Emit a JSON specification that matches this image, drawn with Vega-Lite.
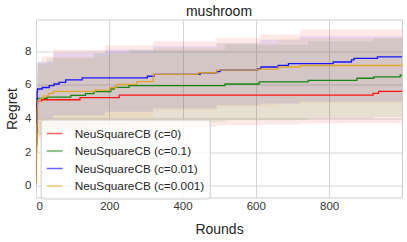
{
  "$schema": "https://vega.github.io/schema/vega-lite/v6.json",
  "width": 366,
  "height": 178,
  "autosize": {"type": "none"},
  "padding": {"left": 36, "top": 19.5, "right": 5, "bottom": 44.5},
  "background": "white",
  "config": {
    "font": "Liberation Sans",
    "view": {"stroke": "#cccccc", "strokeWidth": 1}
  },
  "title": {"text": "mushroom", "fontSize": 14, "fontWeight": "normal", "color": "#1a1a1a", "offset": 1, "font": "Liberation Sans"},
  "datasets": {
    "bands": [
      {"s": "NeuSquareCB (c=0)", "x": 0, "lo": 0.0, "hi": 0.6},
      {"s": "NeuSquareCB (c=0)", "x": 2, "lo": 1.5, "hi": 5.5},
      {"s": "NeuSquareCB (c=0)", "x": 4, "lo": 2.8, "hi": 7.4},
      {"s": "NeuSquareCB (c=0)", "x": 15, "lo": 3.0, "hi": 7.7},
      {"s": "NeuSquareCB (c=0)", "x": 47, "lo": 3.2, "hi": 8.1},
      {"s": "NeuSquareCB (c=0)", "x": 188, "lo": 3.4, "hi": 8.37},
      {"s": "NeuSquareCB (c=0)", "x": 320, "lo": 3.5, "hi": 8.6},
      {"s": "NeuSquareCB (c=0)", "x": 493, "lo": 3.6, "hi": 8.8},
      {"s": "NeuSquareCB (c=0)", "x": 612, "lo": 3.65, "hi": 9.0},
      {"s": "NeuSquareCB (c=0)", "x": 721, "lo": 3.7, "hi": 9.3},
      {"s": "NeuSquareCB (c=0)", "x": 999, "lo": 3.7, "hi": 9.35},
      {"s": "NeuSquareCB (c=0.1)", "x": 0, "lo": 0.0, "hi": 0.6},
      {"s": "NeuSquareCB (c=0.1)", "x": 2, "lo": 1.5, "hi": 5.5},
      {"s": "NeuSquareCB (c=0.1)", "x": 4, "lo": 3.0, "hi": 7.3},
      {"s": "NeuSquareCB (c=0.1)", "x": 30, "lo": 3.3, "hi": 7.6},
      {"s": "NeuSquareCB (c=0.1)", "x": 158, "lo": 3.6, "hi": 7.9},
      {"s": "NeuSquareCB (c=0.1)", "x": 254, "lo": 3.8, "hi": 8.1},
      {"s": "NeuSquareCB (c=0.1)", "x": 516, "lo": 3.9, "hi": 8.4},
      {"s": "NeuSquareCB (c=0.1)", "x": 743, "lo": 4.0, "hi": 8.6},
      {"s": "NeuSquareCB (c=0.1)", "x": 922, "lo": 4.1, "hi": 8.8},
      {"s": "NeuSquareCB (c=0.1)", "x": 999, "lo": 4.1, "hi": 8.9},
      {"s": "NeuSquareCB (c=0.01)", "x": 0, "lo": 0.2, "hi": 0.8},
      {"s": "NeuSquareCB (c=0.01)", "x": 2, "lo": 3.5, "hi": 6.5},
      {"s": "NeuSquareCB (c=0.01)", "x": 4, "lo": 4.0, "hi": 7.4},
      {"s": "NeuSquareCB (c=0.01)", "x": 47, "lo": 4.2, "hi": 7.9},
      {"s": "NeuSquareCB (c=0.01)", "x": 188, "lo": 4.4, "hi": 8.1},
      {"s": "NeuSquareCB (c=0.01)", "x": 320, "lo": 4.6, "hi": 8.3},
      {"s": "NeuSquareCB (c=0.01)", "x": 493, "lo": 4.8, "hi": 8.5},
      {"s": "NeuSquareCB (c=0.01)", "x": 612, "lo": 4.9, "hi": 8.7},
      {"s": "NeuSquareCB (c=0.01)", "x": 721, "lo": 5.0, "hi": 8.9},
      {"s": "NeuSquareCB (c=0.01)", "x": 999, "lo": 5.0, "hi": 8.9},
      {"s": "NeuSquareCB (c=0.001)", "x": 0, "lo": 0.0, "hi": 0.6},
      {"s": "NeuSquareCB (c=0.001)", "x": 2, "lo": 2.0, "hi": 5.5},
      {"s": "NeuSquareCB (c=0.001)", "x": 4, "lo": 3.0, "hi": 7.2},
      {"s": "NeuSquareCB (c=0.001)", "x": 47, "lo": 3.6, "hi": 7.7},
      {"s": "NeuSquareCB (c=0.001)", "x": 200, "lo": 4.0, "hi": 7.9},
      {"s": "NeuSquareCB (c=0.001)", "x": 320, "lo": 4.5, "hi": 8.2},
      {"s": "NeuSquareCB (c=0.001)", "x": 493, "lo": 4.7, "hi": 8.5},
      {"s": "NeuSquareCB (c=0.001)", "x": 661, "lo": 4.9, "hi": 8.8},
      {"s": "NeuSquareCB (c=0.001)", "x": 999, "lo": 5.0, "hi": 8.9}
    ],
    "lines": [
      {"s": "NeuSquareCB (c=0)", "x": 0, "y": 0.3},
      {"s": "NeuSquareCB (c=0)", "x": 1, "y": 2.6},
      {"s": "NeuSquareCB (c=0)", "x": 2, "y": 4.2},
      {"s": "NeuSquareCB (c=0)", "x": 3, "y": 4.9},
      {"s": "NeuSquareCB (c=0)", "x": 4, "y": 5.05},
      {"s": "NeuSquareCB (c=0)", "x": 15, "y": 5.12},
      {"s": "NeuSquareCB (c=0)", "x": 120, "y": 5.25},
      {"s": "NeuSquareCB (c=0)", "x": 227, "y": 5.4},
      {"s": "NeuSquareCB (c=0)", "x": 920, "y": 5.5},
      {"s": "NeuSquareCB (c=0)", "x": 935, "y": 5.62},
      {"s": "NeuSquareCB (c=0)", "x": 999, "y": 5.62},
      {"s": "NeuSquareCB (c=0.1)", "x": 0, "y": 0.3},
      {"s": "NeuSquareCB (c=0.1)", "x": 1, "y": 2.4},
      {"s": "NeuSquareCB (c=0.1)", "x": 2, "y": 4.0},
      {"s": "NeuSquareCB (c=0.1)", "x": 3, "y": 4.9},
      {"s": "NeuSquareCB (c=0.1)", "x": 4, "y": 5.2},
      {"s": "NeuSquareCB (c=0.1)", "x": 30, "y": 5.28},
      {"s": "NeuSquareCB (c=0.1)", "x": 95, "y": 5.38},
      {"s": "NeuSquareCB (c=0.1)", "x": 135, "y": 5.48},
      {"s": "NeuSquareCB (c=0.1)", "x": 158, "y": 5.6},
      {"s": "NeuSquareCB (c=0.1)", "x": 204, "y": 5.76},
      {"s": "NeuSquareCB (c=0.1)", "x": 213, "y": 5.86},
      {"s": "NeuSquareCB (c=0.1)", "x": 254, "y": 5.96},
      {"s": "NeuSquareCB (c=0.1)", "x": 516, "y": 6.06},
      {"s": "NeuSquareCB (c=0.1)", "x": 609, "y": 6.18},
      {"s": "NeuSquareCB (c=0.1)", "x": 743, "y": 6.28},
      {"s": "NeuSquareCB (c=0.1)", "x": 876, "y": 6.4},
      {"s": "NeuSquareCB (c=0.1)", "x": 922, "y": 6.48},
      {"s": "NeuSquareCB (c=0.1)", "x": 994, "y": 6.58},
      {"s": "NeuSquareCB (c=0.1)", "x": 999, "y": 6.58},
      {"s": "NeuSquareCB (c=0.01)", "x": 0, "y": 0.5},
      {"s": "NeuSquareCB (c=0.01)", "x": 1, "y": 3.2},
      {"s": "NeuSquareCB (c=0.01)", "x": 2, "y": 5.0},
      {"s": "NeuSquareCB (c=0.01)", "x": 3, "y": 5.6},
      {"s": "NeuSquareCB (c=0.01)", "x": 4, "y": 5.76},
      {"s": "NeuSquareCB (c=0.01)", "x": 17, "y": 5.85},
      {"s": "NeuSquareCB (c=0.01)", "x": 36, "y": 5.96},
      {"s": "NeuSquareCB (c=0.01)", "x": 49, "y": 6.06},
      {"s": "NeuSquareCB (c=0.01)", "x": 63, "y": 6.16},
      {"s": "NeuSquareCB (c=0.01)", "x": 81, "y": 6.3},
      {"s": "NeuSquareCB (c=0.01)", "x": 126, "y": 6.42},
      {"s": "NeuSquareCB (c=0.01)", "x": 304, "y": 6.52},
      {"s": "NeuSquareCB (c=0.01)", "x": 322, "y": 6.63},
      {"s": "NeuSquareCB (c=0.01)", "x": 448, "y": 6.73},
      {"s": "NeuSquareCB (c=0.01)", "x": 493, "y": 6.8},
      {"s": "NeuSquareCB (c=0.01)", "x": 503, "y": 6.88},
      {"s": "NeuSquareCB (c=0.01)", "x": 605, "y": 6.97},
      {"s": "NeuSquareCB (c=0.01)", "x": 614, "y": 7.07},
      {"s": "NeuSquareCB (c=0.01)", "x": 661, "y": 7.17},
      {"s": "NeuSquareCB (c=0.01)", "x": 689, "y": 7.27},
      {"s": "NeuSquareCB (c=0.01)", "x": 811, "y": 7.37},
      {"s": "NeuSquareCB (c=0.01)", "x": 861, "y": 7.49},
      {"s": "NeuSquareCB (c=0.01)", "x": 868, "y": 7.59},
      {"s": "NeuSquareCB (c=0.01)", "x": 932, "y": 7.68},
      {"s": "NeuSquareCB (c=0.01)", "x": 999, "y": 7.68},
      {"s": "NeuSquareCB (c=0.001)", "x": 0, "y": 0.2},
      {"s": "NeuSquareCB (c=0.001)", "x": 1, "y": 2.0},
      {"s": "NeuSquareCB (c=0.001)", "x": 2, "y": 3.6},
      {"s": "NeuSquareCB (c=0.001)", "x": 3, "y": 4.6},
      {"s": "NeuSquareCB (c=0.001)", "x": 4, "y": 5.06},
      {"s": "NeuSquareCB (c=0.001)", "x": 12, "y": 5.2},
      {"s": "NeuSquareCB (c=0.001)", "x": 20, "y": 5.34},
      {"s": "NeuSquareCB (c=0.001)", "x": 34, "y": 5.5},
      {"s": "NeuSquareCB (c=0.001)", "x": 47, "y": 5.62},
      {"s": "NeuSquareCB (c=0.001)", "x": 161, "y": 5.7},
      {"s": "NeuSquareCB (c=0.001)", "x": 202, "y": 5.84},
      {"s": "NeuSquareCB (c=0.001)", "x": 220, "y": 6.04},
      {"s": "NeuSquareCB (c=0.001)", "x": 275, "y": 6.2},
      {"s": "NeuSquareCB (c=0.001)", "x": 320, "y": 6.63},
      {"s": "NeuSquareCB (c=0.001)", "x": 442, "y": 6.73},
      {"s": "NeuSquareCB (c=0.001)", "x": 493, "y": 6.88},
      {"s": "NeuSquareCB (c=0.001)", "x": 605, "y": 6.94},
      {"s": "NeuSquareCB (c=0.001)", "x": 661, "y": 7.07},
      {"s": "NeuSquareCB (c=0.001)", "x": 721, "y": 7.16},
      {"s": "NeuSquareCB (c=0.001)", "x": 999, "y": 7.16}
    ]
  },
  "resolve": {"scale": {"color": "shared"}, "legend": {"color": "independent"}},
  "layer": [
    {
      "data": {"name": "bands"},
      "mark": {"type": "area", "interpolate": "step-after", "opacity": 0.09, "clip": true},
      "encoding": {
        "x": {"field": "x", "type": "quantitative",
          "scale": {"domain": [0, 999], "nice": false, "zero": false},
          "axis": {"values": [0, 200, 400, 600, 800], "title": "Rounds", "grid": true, "gridColor": "#d6d6d6", "ticks": false, "domain": false, "labelFontSize": 11.5, "labelColor": "#333333", "labelPadding": 3, "titleFontSize": 14, "titleFontWeight": "normal", "titleColor": "#262626", "titlePadding": 10}},
        "y": {"field": "lo", "type": "quantitative",
          "scale": {"domain": [-0.7, 9.9], "nice": false, "zero": false},
          "axis": {"values": [0, 2, 4, 6, 8], "title": "Regret", "grid": true, "gridColor": "#d6d6d6", "ticks": false, "domain": false, "labelFontSize": 11.5, "labelColor": "#333333", "labelPadding": 5, "titleFontSize": 14, "titleFontWeight": "normal", "titleColor": "#262626", "titlePadding": 5}},
        "y2": {"field": "hi"},
        "color": {"field": "s", "type": "nominal", "legend": null,
          "scale": {"domain": ["NeuSquareCB (c=0)", "NeuSquareCB (c=0.1)", "NeuSquareCB (c=0.01)", "NeuSquareCB (c=0.001)"], "range": ["#ff0000", "#008000", "#0000ff", "#e3a21a"]}}
      }
    },
    {
      "data": {"name": "lines"},
      "mark": {"type": "line", "interpolate": "step-after", "strokeWidth": 1.3, "opacity": 0.9, "clip": true},
      "encoding": {
        "x": {"field": "x", "type": "quantitative"},
        "y": {"field": "y", "type": "quantitative"},
        "color": {"field": "s", "type": "nominal",
          "scale": {"domain": ["NeuSquareCB (c=0)", "NeuSquareCB (c=0.1)", "NeuSquareCB (c=0.01)", "NeuSquareCB (c=0.001)"], "range": ["#ff0000", "#008000", "#0000ff", "#e3a21a"]},
          "legend": {"orient": "none", "legendX": 4.7, "legendY": 100, "title": null, "symbolType": "stroke", "symbolSize": 250, "symbolStrokeWidth": 1.5, "symbolOpacity": 0.6, "labelFontSize": 11.8, "labelColor": "#262626", "labelOffset": 11, "fillColor": "rgba(255,255,255,0.8)", "strokeColor": "#cccccc", "cornerRadius": 3, "padding": 5, "rowPadding": 1.5}}
      }
    }
  ]
}
